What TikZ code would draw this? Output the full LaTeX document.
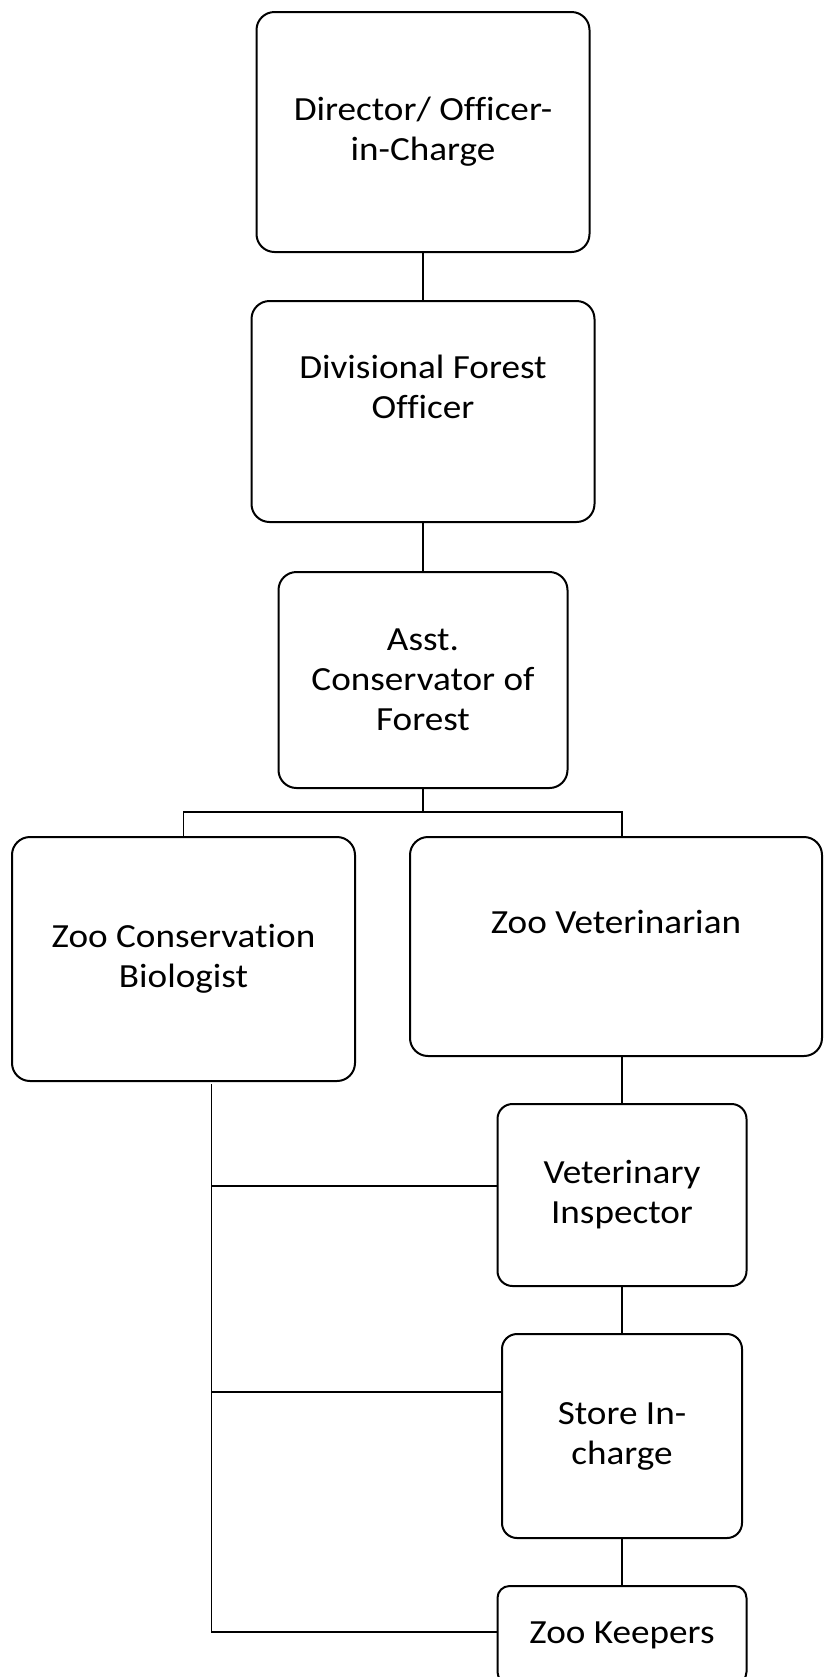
\documentclass[tikz,border=0pt]{standalone}
\usepackage{fontspec}
\setmainfont{Carlito}[FakeStretch=1.1, Ligatures=CommonOff]
\usepackage{tikz}
\usetikzlibrary{positioning, calc}
\tikzset{
  post/.style={draw, rounded corners=9pt, line width=1pt, align=center, inner sep=0pt, fill=white},
  link/.style={line width=0.8pt},
  every node/.style={font=\fontsize{16.9pt}{20pt}\selectfont}
}

\begin{document}
\begin{tikzpicture}[x=0.5pt, y=-0.5pt]
    \useasboundingbox (0,0) rectangle (824,1677);

    \node[post, minimum width=166.5pt, minimum height=120pt] (dir) at (423,132) {Director/ Officer-\\in-Charge};
    \node[post, minimum width=171.5pt, minimum height=110.5pt] (dfo) at (423,411.5) {Divisional Forest\\Officer\\[5pt]\mbox{}};
    \node[post, minimum width=144.5pt, minimum height=108pt] (acf) at (423,680) {Asst.\\Conservator of\\Forest};
    \node[post, minimum width=171.5pt, minimum height=122pt] (zcb) at (183.5,959) {Zoo Conservation\\Biologist};
    \node[post, minimum width=206pt, minimum height=109.5pt] (zv) at (616,946.5) {Zoo Veterinarian\\[5pt]\mbox{}};
    \node[post, rounded corners=7.5pt, minimum width=124.5pt, minimum height=91pt] (vi) at (622,1195) {Veterinary\\Inspector};
    \node[post, rounded corners=7.5pt, minimum width=120pt, minimum height=102pt] (si) at (622,1436) {Store In-\\charge};
    \node[post, rounded corners=6pt, minimum width=124.5pt, minimum height=49pt] (zk) at (622,1635) {Zoo Keepers};

    % chain of command
    \coordinate (fork) at (423,812);
    \coordinate (trunk) at (211.5,1084);
    \draw[link] (dir.south) -- (dfo.north);
    \draw[link] (dfo.south) -- (acf.north);
    \draw[link] (acf.south) -- (fork);
    \draw[link] (zcb.north) |- (fork) -| (vi.north |- zv.north);
    \draw[link] (zv.south -| vi.north) -- (vi.north);
    \draw[link] (vi.south) -- (si.north);
    \draw[link] (si.south) -- (zk.north);

    % biologist line
    \draw[link] (trunk) |- ([yshift=1.5pt]zk.west);
    \draw[link] ([yshift=4.5pt]vi.west) -| (trunk);
    \draw[link] ([yshift=22pt]si.west) -| (trunk);
\end{tikzpicture}
\end{document}
